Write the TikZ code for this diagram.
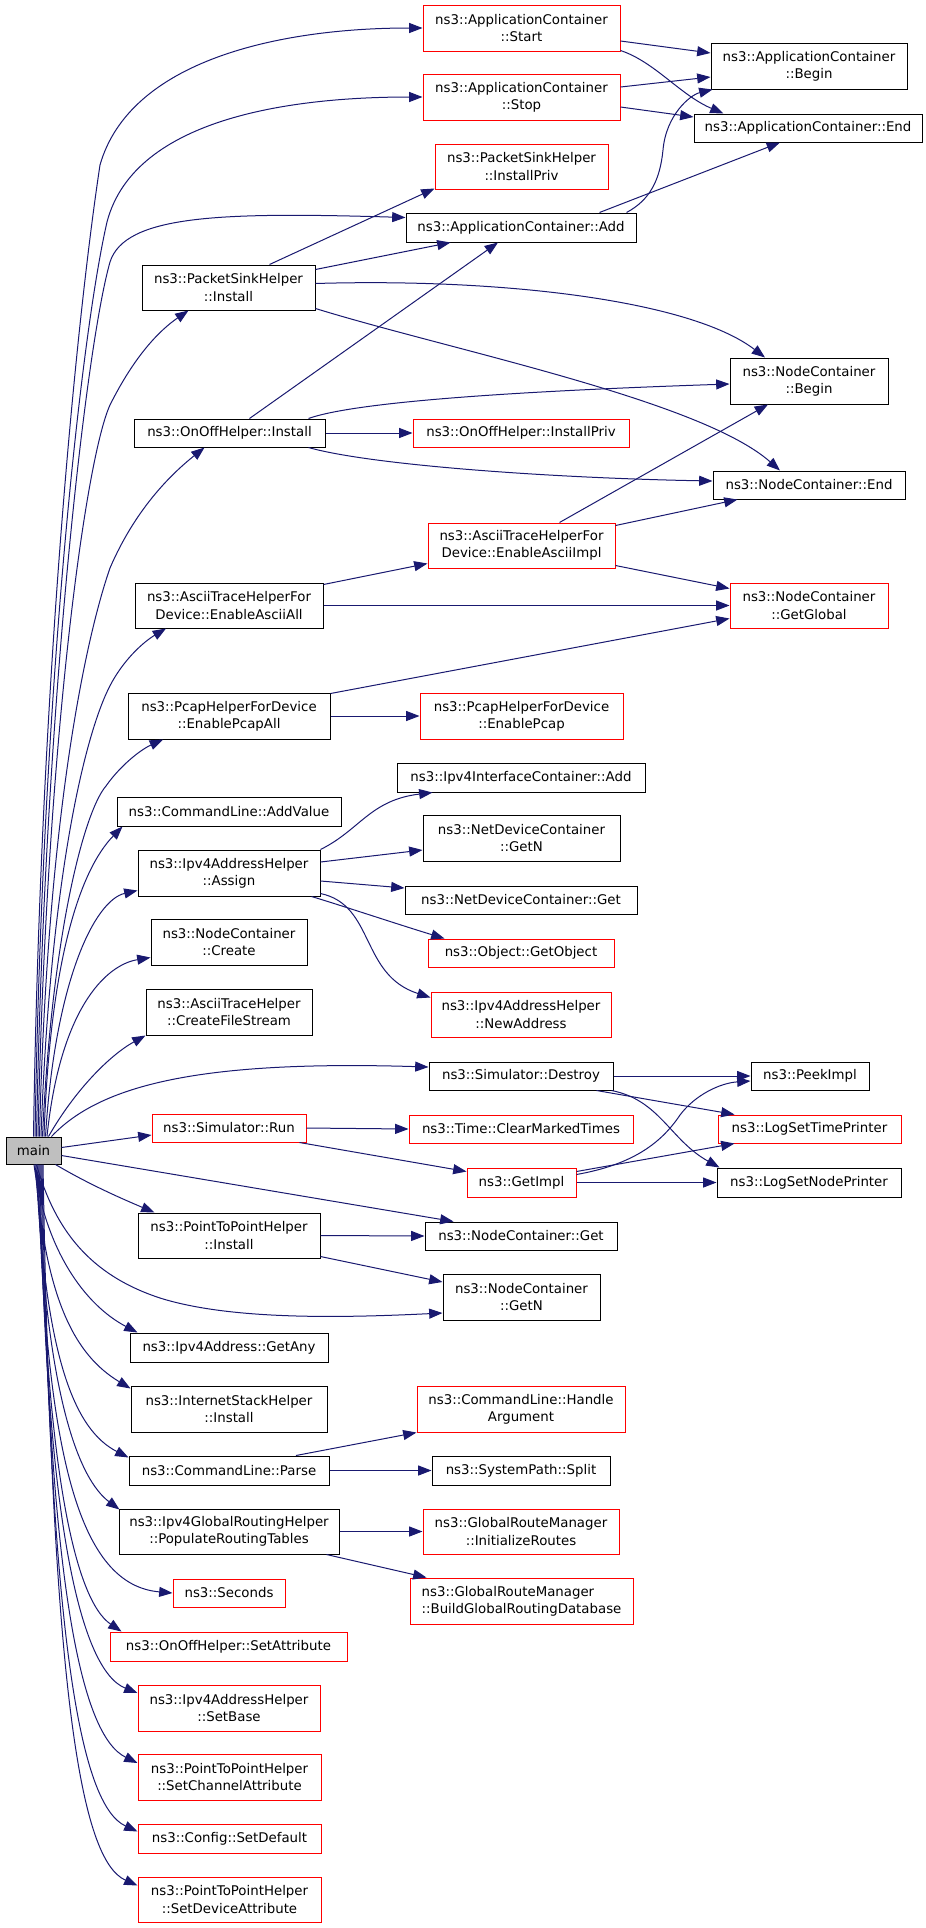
\documentclass[tikz,border=0pt]{standalone}
\usepackage{fontspec}
\setmainfont{DejaVu Sans}
\usetikzlibrary{arrows.meta,calc}
\definecolor{edgeblue}{HTML}{191970}
\definecolor{maingrey}{HTML}{BFBFBF}
\tikzset{
 nbox/.style={draw=black, fill=white, line width=0.75pt, inner sep=0pt, align=center, font=\fontsize{10}{13}\selectfont},
 rbox/.style={nbox, draw=red},
 mbox/.style={nbox, fill=maingrey},
 lbox/.style={rbox, align=left},
 edge/.style={draw=edgeblue, line width=0.75pt, -{Triangle[length=10pt,width=7.5pt]}},
}
\newcommand\bx[7]{\node[#1, minimum width={(#5-#3)*0.75pt}, minimum height={(#6-#4)*0.75pt}] (#2) at ({(#3+#5)/2},{(#4+#6)/2}) {#7};}
\begin{document}
\begin{tikzpicture}[x=0.75pt,y=-0.75pt]
\fill[white] (0,0) rectangle (925,1928);
\path[use as bounding box] (0,0) rectangle (925,1928);
% nodes
\bx{rbox}{Start}{423}{5}{620}{51}{ns3::ApplicationContainer\\::Start}
\bx{nbox}{AppBegin}{711}{43}{907}{89}{ns3::ApplicationContainer\\::Begin}
\bx{rbox}{Stop}{423}{74}{620}{120}{ns3::ApplicationContainer\\::Stop}
\bx{nbox}{AppEnd}{694}{114}{922}{142}{ns3::ApplicationContainer::End}
\bx{rbox}{SinkPriv}{435}{144}{608}{189}{ns3::PacketSinkHelper\\::InstallPriv}
\bx{nbox}{AppAdd}{406}{213}{636}{242}{ns3::ApplicationContainer::Add}
\bx{nbox}{SinkInstall}{142}{265}{315}{310}{ns3::PacketSinkHelper\\::Install}
\bx{nbox}{NCBegin}{730}{358}{888}{404}{ns3::NodeContainer\\::Begin}
\bx{nbox}{OnOffInstall}{134}{419}{325}{447}{ns3::OnOffHelper::Install}
\bx{rbox}{OnOffPriv}{413}{419}{629}{447}{ns3::OnOffHelper::InstallPriv}
\bx{nbox}{NCEnd}{713}{471}{905}{499}{ns3::NodeContainer::End}
\bx{rbox}{AsciiImpl}{428}{523}{615}{568}{ns3::AsciiTraceHelperFor\\Device::EnableAsciiImpl}
\bx{nbox}{AsciiAll}{135}{583}{323}{628}{ns3::AsciiTraceHelperFor\\Device::EnableAsciiAll}
\bx{rbox}{GetGlobal}{730}{583}{888}{628}{ns3::NodeContainer\\::GetGlobal}
\bx{nbox}{PcapAll}{128}{693}{330}{739}{ns3::PcapHelperForDevice\\::EnablePcapAll}
\bx{rbox}{Pcap}{420}{693}{623}{739}{ns3::PcapHelperForDevice\\::EnablePcap}
\bx{nbox}{IICAdd}{397}{763}{645}{792}{ns3::Ipv4InterfaceContainer::Add}
\bx{nbox}{AddValue}{117}{797}{341}{826}{ns3::CommandLine::AddValue}
\bx{nbox}{NDCGetN}{423}{815}{620}{861}{ns3::NetDeviceContainer\\::GetN}
\bx{nbox}{Assign}{138}{850}{320}{896}{ns3::Ipv4AddressHelper\\::Assign}
\bx{nbox}{NDCGet}{405}{886}{637}{914}{ns3::NetDeviceContainer::Get}
\bx{nbox}{Create}{151}{919}{307}{965}{ns3::NodeContainer\\::Create}
\bx{rbox}{GetObject}{428}{939}{614}{967}{ns3::Object::GetObject}
\bx{rbox}{NewAddress}{431}{992}{611}{1037}{ns3::Ipv4AddressHelper\\::NewAddress}
\bx{nbox}{FileStream}{146}{989}{312}{1035}{ns3::AsciiTraceHelper\\::CreateFileStream}
\bx{nbox}{Destroy}{429}{1062}{613}{1090}{ns3::Simulator::Destroy}
\bx{nbox}{PeekImpl}{751}{1062}{869}{1090}{ns3::PeekImpl}
\bx{rbox}{Run}{152}{1114}{306}{1142}{ns3::Simulator::Run}
\bx{rbox}{ClearMarked}{409}{1115}{633}{1143}{ns3::Time::ClearMarkedTimes}
\bx{rbox}{LogTime}{718}{1115}{901}{1143}{ns3::LogSetTimePrinter}
\bx{mbox}{main}{6}{1137}{61}{1164}{main}
\bx{rbox}{GetImpl}{467}{1168}{576}{1197}{ns3::GetImpl}
\bx{nbox}{LogNode}{717}{1168}{901}{1197}{ns3::LogSetNodePrinter}
\bx{nbox}{P2PInstall}{138}{1213}{320}{1258}{ns3::PointToPointHelper\\::Install}
\bx{nbox}{NCGet}{425}{1222}{617}{1250}{ns3::NodeContainer::Get}
\bx{nbox}{NCGetN}{443}{1274}{600}{1320}{ns3::NodeContainer\\::GetN}
\bx{nbox}{GetAny}{130}{1333}{328}{1362}{ns3::Ipv4Address::GetAny}
\bx{nbox}{ISHInstall}{131}{1386}{327}{1432}{ns3::InternetStackHelper\\::Install}
\bx{rbox}{HandleArg}{417}{1386}{625}{1432}{ns3::CommandLine::Handle\\Argument}
\bx{nbox}{Parse}{129}{1456}{329}{1485}{ns3::CommandLine::Parse}
\bx{nbox}{Split}{432}{1456}{610}{1485}{ns3::SystemPath::Split}
\bx{nbox}{Populate}{119}{1509}{339}{1554}{ns3::Ipv4GlobalRoutingHelper\\::PopulateRoutingTables}
\bx{rbox}{InitRoutes}{423}{1509}{619}{1554}{ns3::GlobalRouteManager\\::InitializeRoutes}
\bx{lbox}{BuildDB}{410}{1578}{633}{1624}{ns3::GlobalRouteManager\\::BuildGlobalRoutingDatabase}
\bx{rbox}{Seconds}{173}{1579}{285}{1607}{ns3::Seconds}
\bx{rbox}{SetAttribute}{110}{1632}{347}{1661}{ns3::OnOffHelper::SetAttribute}
\bx{rbox}{SetBase}{138}{1685}{320}{1731}{ns3::Ipv4AddressHelper\\::SetBase}
\bx{rbox}{SetChannel}{138}{1754}{321}{1800}{ns3::PointToPointHelper\\::SetChannelAttribute}
\bx{rbox}{SetDefault}{138}{1824}{321}{1853}{ns3::Config::SetDefault}
\bx{rbox}{SetDevice}{138}{1877}{321}{1922}{ns3::PointToPointHelper\\::SetDeviceAttribute}
% edges from main, upward
\draw[edge] ($(main.north)+(0,0)$) .. controls (40,700) and (75,330) .. (100,165) .. controls (130,60) and (280,28) .. (Start.west);
\draw[edge] ($(main.north)+(1.5,0)$) .. controls (42,700) and (80,340) .. (107,222) .. controls (135,115) and (300,97) .. (Stop.west);
\draw[edge] ($(main.north)+(3,0)$) .. controls (44,720) and (85,350) .. (110,262) .. controls (125,215) and (220,212) .. ($(AppAdd.north west)+(0,5)$);
\draw[edge] ($(main.north)+(4.5,0)$) .. controls (46,750) and (85,460) .. (110,405) .. controls (135,355) and (160,330) .. ($(SinkInstall.south)+(-40,0)$);
\draw[edge] ($(main.north)+(6,0)$) .. controls (47,820) and (85,640) .. (110,568) .. controls (135,510) and (170,475) .. ($(OnOffInstall.south)+(-25,0)$);
\draw[edge] ($(main.north)+(7.5,0)$) .. controls (50,880) and (85,730) .. (112,682) .. controls (126,657) and (145,641) .. ($(AsciiAll.south)+(-63,0)$);
\draw[edge] ($(main.north)+(9,0)$) .. controls (52,930) and (85,810) .. (106,786) .. controls (120,766) and (140,750) .. ($(PcapAll.south)+(-66,0)$);
\draw[edge] ($(main.north)+(10.5,0)$) .. controls (50,960) and (80,870) .. ($(AddValue.south west)+(6,0)$);
\draw[edge] ($(main.north)+(12,0)$) .. controls (55,980) and (95,900) .. ($(Assign.south west)+(0,-6)$);
\draw[edge] ($(main.north)+(13.5,0)$) .. controls (60,1010) and (105,965) .. ($(Create.south west)+(0,-8)$);
\draw[edge] ($(main.north)+(15,0)$) .. controls (75,1090) and (110,1055) .. (FileStream.south west);
\draw[edge] ($(main.north east)+(-10,0)$) .. controls (100,1085) and (200,1060) .. ($(Destroy.west)+(0,-9)$);
% edges from main, sideways
\draw[edge] ($(main.east)+(0,-3)$) -- ($(Run.west)+(0,7)$);
\draw[edge] ($(main.east)+(0,5)$) -- ($(NCGet.north west)+(29,0)$);
\draw[edge] ($(main.south east)+(-6,0)$) .. controls (90,1185) and (125,1200) .. ($(P2PInstall.north west)+(17,0)$);
\draw[edge] ($(main.south)+(3,0)$) .. controls (55,1230) and (90,1275) .. (160,1298) .. controls (230,1320) and (340,1318) .. ($(NCGetN.west)+(0,16)$);
% edges from main, downward
\draw[edge] ($(main.south)+(0.5,0)$) .. controls (45,1250) and (85,1305) .. ($(GetAny.north west)+(8,0)$);
\draw[edge] ($(main.south)+(1.5,0)$) .. controls (45,1300) and (75,1355) .. ($(ISHInstall.north west)+(0,3)$);
\draw[edge] ($(main.south)+(2.5,0)$) .. controls (45,1360) and (75,1430) .. ($(Parse.north west)+(0,2)$);
\draw[edge] ($(main.south)+(3.5,0)$) .. controls (45,1400) and (80,1480) .. ($(Populate.north west)+(1,1)$);
\draw[edge] ($(main.south)+(4.5,0)$) .. controls (45,1460) and (80,1585) .. (Seconds.west);
\draw[edge] ($(main.south)+(5.5,0)$) .. controls (45,1470) and (75,1600) .. ($(SetAttribute.north west)+(12,0)$);
\draw[edge] ($(main.south)+(6.5,0)$) .. controls (45,1520) and (80,1670) .. ($(SetBase.west)+(0,-15)$);
\draw[edge] ($(main.south)+(7.5,0)$) .. controls (48,1580) and (80,1735) .. ($(SetChannel.west)+(0,-14)$);
\draw[edge] ($(main.south)+(8.5,0)$) .. controls (50,1640) and (80,1805) .. ($(SetDefault.west)+(0,-7)$);
\draw[edge] ($(main.south)+(9.5,0)$) .. controls (52,1690) and (80,1860) .. ($(SetDevice.west)+(0,-14)$);
% other edges
\draw[edge] ($(Start.east)+(0,13)$) -- ($(AppBegin.west)+(0,-13)$);
\draw[edge] ($(Start.south east)+(0,-1)$) .. controls (655,62) and (680,95) .. ($(AppEnd.north west)+(30,0)$);
\draw[edge] ($(Stop.east)+(0,-10)$) -- ($(AppBegin.west)+(0,11)$);
\draw[edge] ($(Stop.east)+(0,10)$) -- ($(AppEnd.west)+(0,-11)$);
\draw[edge] ($(AppAdd.north east)+(-10,0)$) .. controls (650,200) and (660,180) .. (663,150) .. controls (666,115) and (690,95) .. ($(AppBegin.south west)+(2,0)$);
\draw[edge] ($(AppAdd.north east)+(-37,0)$) -- ($(AppEnd.south)+(-28,0)$);
\draw[edge] ($(SinkInstall.north)+(41,0)$) -- ($(SinkPriv.south west)+(0,-1)$);
\draw[edge] ($(SinkInstall.north east)+(0,5)$) -- ($(AppAdd.south west)+(45,0)$);
\draw[edge] ($(SinkInstall.east)+(0,-4)$) .. controls (500,278) and (690,300) .. ($(NCBegin.north)+(-44,0)$);
\draw[edge] ($(SinkInstall.south east)+(0,-2)$) .. controls (450,350) and (700,400) .. ($(NCEnd.north)+(-29,0)$);
\draw[edge] ($(OnOffInstall.north)+(20,0)$) -- ($(AppAdd.south)+(-23,0)$);
\draw[edge] ($(OnOffInstall.north east)+(-17,0)$) .. controls (360,400) and (550,390) .. ($(NCBegin.west)+(0,3)$);
\draw[edge] (OnOffInstall.east) -- (OnOffPriv.west);
\draw[edge] ($(OnOffInstall.south east)+(-17,0)$) .. controls (370,465) and (550,478) .. ($(NCEnd.west)+(0,-4)$);
\draw[edge] ($(AsciiImpl.north)+(38,0)$) -- ($(NCBegin.south)+(-41,0)$);
\draw[edge] ($(AsciiImpl.north east)+(0,3)$) -- ($(NCEnd.south west)+(25,0)$);
\draw[edge] ($(AsciiImpl.south east)+(0,-3)$) -- ($(GetGlobal.north west)+(0,6)$);
\draw[edge] ($(AsciiAll.north east)+(0,2)$) -- ($(AsciiImpl.south west)+(0,-5)$);
\draw[edge] (AsciiAll.east) -- (GetGlobal.west);
\draw[edge] ($(PcapAll.north east)+(0,1)$) -- ($(GetGlobal.south west)+(0,-10)$);
\draw[edge] (PcapAll.east) -- (Pcap.west);
\draw[edge] (Assign.north east) .. controls (360,830) and (370,800) .. ($(IICAdd.south west)+(36,0)$);
\draw[edge] ($(Assign.east)+(0,-11)$) -- ($(NDCGetN.west)+(0,12)$);
\draw[edge] ($(Assign.east)+(0,8)$) -- ($(NDCGet.west)+(0,-12)$);
\draw[edge] ($(Assign.south east)+(-9,0)$) .. controls (340,905) and (400,925) .. ($(GetObject.north west)+(17,0)$);
\draw[edge] ($(Assign.south east)+(0,-3)$) .. controls (375,905) and (360,975) .. ($(NewAddress.north west)+(0,6)$);
\draw[edge] (Destroy.east) -- (PeekImpl.west);
\draw[edge] ($(Destroy.south east)+(-17,0)$) -- ($(LogTime.north west)+(17,0)$);
\draw[edge] ($(Destroy.south east)+(-2,0)$) .. controls (660,1100) and (670,1140) .. ($(LogNode.north west)+(3,0)$);
\draw[edge] (Run.east) -- (ClearMarked.west);
\draw[edge] ($(Run.south east)+(-7,0)$) -- ($(GetImpl.west)+(0,-11)$);
\draw[edge] ($(GetImpl.east)+(0,-8)$) .. controls (630,1165) and (660,1145) .. (680,1115) .. controls (695,1095) and (720,1083) .. ($(PeekImpl.west)+(0,5)$);
\draw[edge] ($(GetImpl.north east)+(0,4)$) -- ($(LogTime.south west)+(17,0)$);
\draw[edge] (GetImpl.east) -- (LogNode.west);
\draw[edge] (P2PInstall.east) -- (NCGet.west);
\draw[edge] ($(P2PInstall.south east)+(0,-2)$) -- ($(NCGetN.west)+(0,-15)$);
\draw[edge] ($(Parse.north)+(67,0)$) -- (HandleArg.south west);
\draw[edge] (Parse.east) -- (Split.west);
\draw[edge] (Populate.east) -- (InitRoutes.west);
\draw[edge] ($(Populate.south east)+(-13,0)$) -- ($(BuildDB.north west)+(17,0)$);
\end{tikzpicture}
\end{document}
